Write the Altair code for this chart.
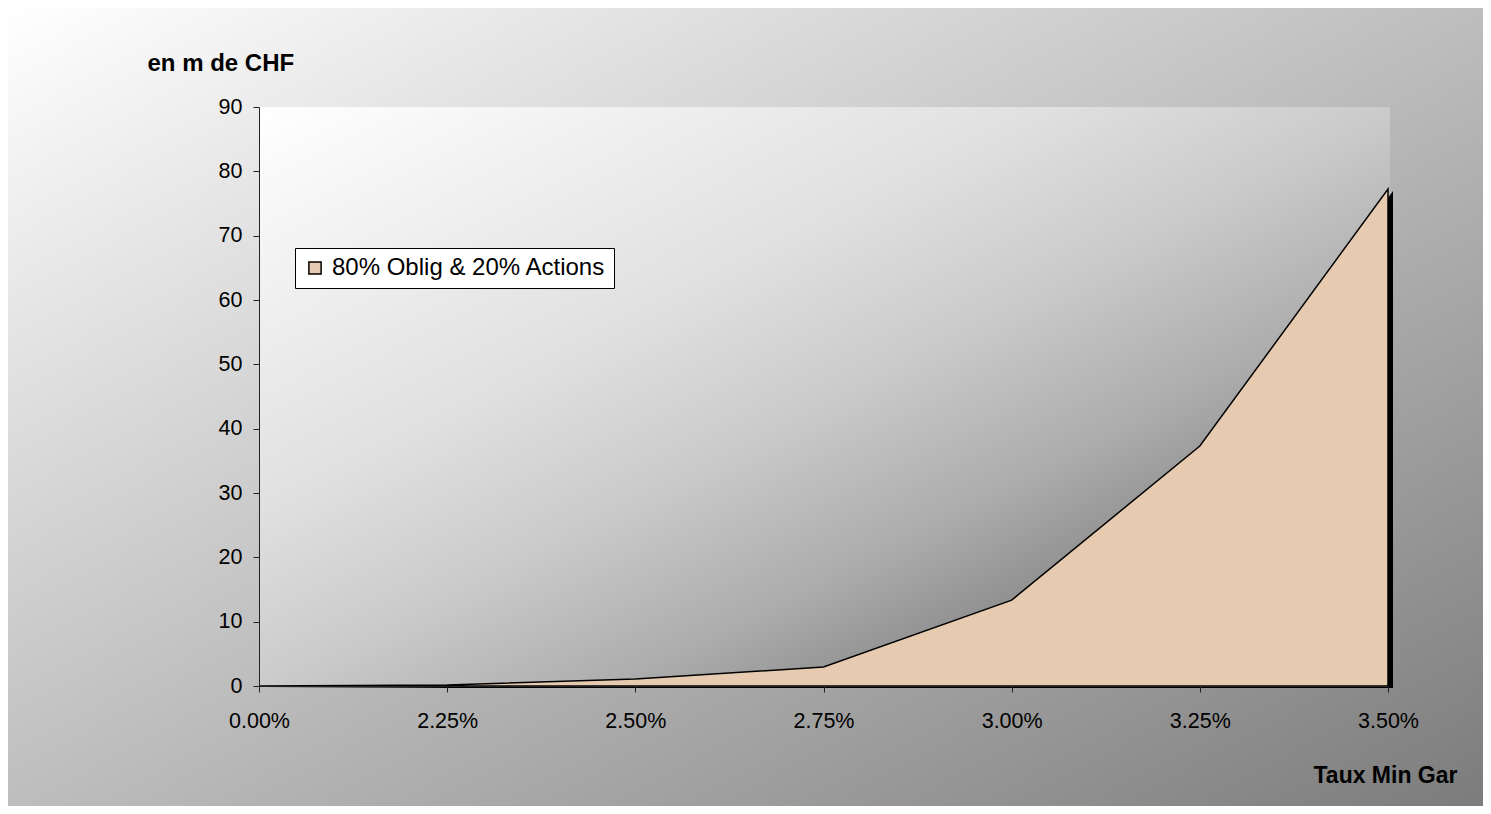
import altair as alt
import pandas as pd

taux = ["0.00%", "2.25%", "2.50%", "2.75%", "3.00%", "3.25%", "3.50%"]
valeurs = [0.0, 0.16, 1.1, 2.95, 13.35, 37.3, 77.25]
serie = "80% Oblig & 20% Actions"

df = pd.DataFrame({"taux": taux, "valeur": valeurs, "serie": [serie] * len(taux)})
one = pd.DataFrame({"a": [0]})

W, H = 1129, 579
FONT = "Liberation Sans"

outer_grad = alt.Gradient(
    gradient="linear",
    stops=[alt.GradientStop(color="#ffffff", offset=0),
           alt.GradientStop(color="#7c7c7c", offset=1)],
    x1=0, y1=0, x2=1, y2=1,
)
plot_grad = alt.Gradient(
    gradient="linear",
    stops=[alt.GradientStop(color="#ffffff", offset=0),
           alt.GradientStop(color="#e0e0e0", offset=0.35),
           alt.GradientStop(color="#cbcbcb", offset=0.5),
           alt.GradientStop(color="#acacac", offset=0.66),
           alt.GradientStop(color="#858585", offset=0.8),
           alt.GradientStop(color="#6c6c6c", offset=1)],
    x1=0, y1=0, x2=1, y2=1,
)

outer_bg = alt.Chart(one).mark_rect(fill=outer_grad, strokeWidth=0).encode(
    x=alt.value(-251), x2=alt.value(1224), y=alt.value(-99), y2=alt.value(699)
)
plot_bg = alt.Chart(one).mark_rect(fill=plot_grad, strokeWidth=0).encode(
    x=alt.value(0), x2=alt.value(W + 2), y=alt.value(0), y2=alt.value(H)
)

xenc = alt.X(
    "taux:O", sort=taux,
    scale=alt.Scale(type="point", padding=0),
    axis=alt.Axis(
        title="Taux Min Gar", labelAngle=0, labelFontSize=21.5, labelFont=FONT,
        labelColor="black", labelPadding=18, tickSize=6, tickColor="#222",
        domainColor="#222", titleFont=FONT, titleFontSize=23, titleFontWeight="bold",
        titleColor="black", titleX=1198, titleY=96, titleAlign="right",
        titleBaseline="alphabetic", titleAnchor="end", zindex=2,
    ),
)
yenc = alt.Y(
    "valeur:Q",
    scale=alt.Scale(domain=[0, 90], nice=False),
    axis=alt.Axis(
        title="en m de CHF", values=list(range(0, 91, 10)), grid=False,
        labelFontSize=21.5, labelFont=FONT, labelColor="black", labelPadding=11,
        tickSize=6, tickColor="#222", domainColor="#222",
        titleFont=FONT, titleFontSize=24, titleFontWeight="bold", titleColor="black",
        titleAngle=0, titleX=-112, titleY=-37, titleAlign="left",
        titleBaseline="alphabetic", titleAnchor="start", zindex=2,
    ),
)

shadow = alt.Chart(df).mark_area(color="black", xOffset=5, yOffset=2).encode(
    x=xenc, y=yenc
)
area = alt.Chart(df).mark_area(stroke="black", strokeWidth=1.5, opacity=1).encode(
    x=xenc,
    y=yenc,
    color=alt.Color(
        "serie:N",
        scale=alt.Scale(range=["#e6cbb0"]),
        legend=alt.Legend(
            title=None, orient="none", legendX=36, legendY=141,
            fillColor="white", strokeColor="black", padding=8,
            labelFont=FONT, labelFontSize=24, labelColor="black", labelLimit=600,
            symbolType="square", symbolSize=150, symbolStrokeColor="black",
            symbolStrokeWidth=1.5, symbolFillColor="#e6cbb0", labelOffset=5,
            zindex=3,
        ),
    ),
)

chart = alt.layer(outer_bg, plot_bg, shadow, area).properties(
    width=W, height=H, padding=0, background="white"
).configure_view(stroke=None)

chart.save("out.html", embed_options={"renderer": "svg", "actions": False})
